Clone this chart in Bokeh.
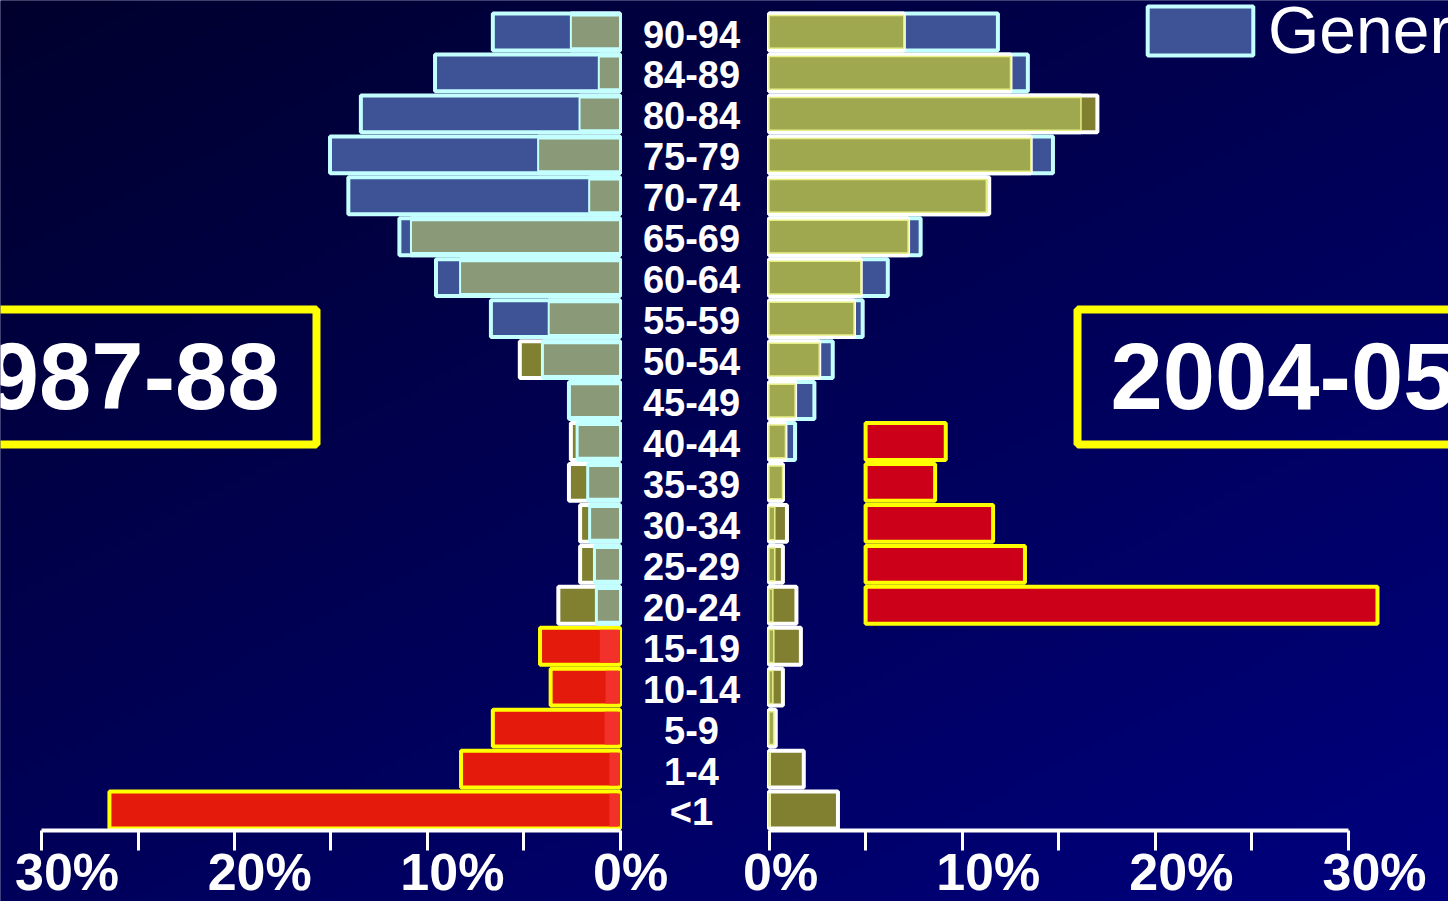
import numpy as np
from bokeh.plotting import figure
from bokeh.models import (Range1d, ColumnDataSource, LinearAxis, FixedTicker,
                          CustomJSTickFormatter, BoxAnnotation, Label, Legend, LegendItem)
from bokeh.core.properties import value
from bokeh.embed import file_html
from bokeh.resources import INLINE

# ---------------- data (percent of each population, bottom row first) ----------------
age_groups = ["<1", "1-4", "5-9", "10-14", "15-19", "20-24", "25-29", "30-34", "35-39",
              "40-44", "45-49", "50-54", "55-59", "60-64", "65-69", "70-74", "75-79",
              "80-84", "84-89", "90-94"]
general_1987 = [0.55, 0.55, 0.8, 0.75, 1.05, 1.2, 1.3, 1.55, 1.65, 2.2,
                2.65, 4.0, 6.7, 9.55, 11.45, 14.1, 15.05, 13.45, 9.6, 6.6]
study_1987 = [26.5, 8.25, 6.6, 3.6, 4.15, 3.2, 2.07, 2.07, 2.65, 2.55,
              2.6, 5.2, 3.7, 8.3, 10.85, 1.6, 4.25, 2.1, 1.1, 2.55]
general_2004 = [0.05, 0.05, 0.25, 0.2, 0.25, 0.2, 0.3, 0.3, 0.7, 1.35,
                2.35, 3.3, 4.85, 6.15, 7.85, 11.25, 14.7, 16.15, 13.4, 11.85]
study_2004 = [3.57, 1.8, 0.35, 0.72, 1.65, 1.42, 0.72, 0.93, 0.72, 0.85,
              1.35, 2.6, 4.4, 4.75, 7.2, 11.4, 13.55, 17.0, 12.5, 6.98]
highlight_count = 5            # youngest age groups highlighted in 1987-88
cohort_shift_rows = 5          # same cohort shown 5 age groups higher in 2004-05
cohort_start_2004 = 5.0        # highlighted cohort bars start at 5 %
axis_ticks = [0, 5, 10, 15, 20, 25, 30]
label_ticks_left = [30, 20, 10, 0]
label_ticks_right = [0, 10, 20, 30]
tick_texts_left = ["30%", "20%", "10%", "0%"]
tick_texts_right = ["0%", "10%", "20%", "30%"]
years = ["1987-88", "2004-05"]
legend_label = "General"

# ---------------- styles ----------------
BLUE = "#3d5396"
CYAN = "#c4ffff"
OLIVE = "#808030"
GREYGREEN = "#8a9a78"
YELLOWGREEN = "#a0a84f"
RED = "#e41a0c"
LIGHTRED = "#f2322a"
DARKRED = "#cc0018"
YELLOW = "#ffff00"
WHITE = "#ffffff"
FONT = "Liberation Sans"

W, H = 1448, 901
L0, LPX = 619.5, 19.267     # left panel: pixel of 0 %, pixels per %
R0, RPX = 768.5, 19.317     # right panel
Y_BASE, ROW = 830.0, 40.95  # pixel of bar baseline, pixels per age group


def lx(px):
    return (L0 - px) / LPX


def rx(px):
    return (px - R0) / RPX


def yv(py):
    return (Y_BASE - py) / ROW - 0.5


p = figure(width=W, height=H, min_border=0, toolbar_location=None, output_backend="svg",
           x_range=Range1d(lx(0), lx(W)), y_range=Range1d(yv(H), yv(0)),
           x_axis_type=None, y_axis_type=None, outline_line_color=None,
           background_fill_color="#000050", border_fill_color="#000050")
p.extra_x_ranges = {"right": Range1d(rx(0), rx(W))}
p.xgrid.visible = False
p.ygrid.visible = False

# background gradient
gr, gc = 120, 190
fy = 1.0 - np.linspace(0, 1, gr)[:, None]
fx = np.linspace(0, 1, gc)[None, :]
t = (fx * 0.45 + fy * 0.55)
img = np.empty((gr, gc), dtype=np.uint32)
view = img.view(dtype=np.uint8).reshape((gr, gc, 4))
view[:, :, 0] = 0
view[:, :, 1] = 0
view[:, :, 2] = (44 + 84 * t).astype(np.uint8)
view[:, :, 3] = 255
x0, x1 = rx(-20), rx(W + 20)
y0, y1 = yv(H + 20), yv(-20)
p.image_rgba(image=[img], x=x0, y=y0, dw=x1 - x0, dh=y1 - y0, x_range_name="right")

n = len(age_groups)
rows = list(range(n))
young = [i < highlight_count for i in rows]

left_src = ColumnDataSource(dict(
    y=rows, g=general_1987, s=study_1987,
    o=[min(a, b) for a, b in zip(general_1987, study_1987)],
    s_fill=[RED if yg else OLIVE for yg in young],
    s_line=[YELLOW if yg else WHITE for yg in young],
    g_alpha=[0.0 if yg else 1.0 for yg in young],
    o_fill=[LIGHTRED if yg else GREYGREEN for yg in young],
    o_line_alpha=[0.0 if yg else 1.0 for yg in young],
))
right_src = ColumnDataSource(dict(
    y=rows, g=general_2004, s=study_2004,
    o=[min(a, b) for a, b in zip(general_2004, study_2004)],
))
cohort_src = ColumnDataSource(dict(
    y=[r + cohort_shift_rows for r in rows[:highlight_count]],
    left=[cohort_start_2004] * highlight_count,
    right=[cohort_start_2004 + v for v in study_1987[:highlight_count]],
))

# left panel (1987-88)
p.hbar(y="y", left=0, right="s", height=0.9, fill_color="s_fill", line_color="s_line",
       line_width=4, source=left_src)
g_left = p.hbar(y="y", left=0, right="g", height=0.9, fill_color=BLUE, fill_alpha="g_alpha",
                line_color=CYAN, line_alpha="g_alpha", line_width=4, source=left_src)
p.hbar(y="y", left=0, right="o", height=0.8, fill_color="o_fill", line_color=CYAN,
       line_alpha="o_line_alpha", line_width=2, source=left_src)

# right panel (2004-05)
p.hbar(y="y", left=0, right="g", height=0.9, fill_color=BLUE, line_color=CYAN, line_width=4,
       source=right_src, x_range_name="right")
p.hbar(y="y", left=0, right="s", height=0.9, fill_color=OLIVE, line_color=WHITE, line_width=4,
       source=right_src, x_range_name="right")
p.hbar(y="y", left=0, right="o", height=0.8, fill_color=YELLOWGREEN, line_color="#e6ef86",
       line_width=1.5, source=right_src, x_range_name="right")
p.hbar(y="y", left="left", right="right", height=0.9, fill_color=DARKRED, line_color=YELLOW,
       line_width=4, source=cohort_src, x_range_name="right")

# axes
for rng in ["default", "right"]:
    ax = LinearAxis(x_range_name=rng, fixed_location=-0.5, bounds=(0, 30),
                    ticker=FixedTicker(ticks=axis_ticks),
                    formatter=CustomJSTickFormatter(code="return ''"),
                    axis_line_color=WHITE, axis_line_width=4,
                    major_tick_line_color=WHITE, major_tick_line_width=3,
                    major_tick_out=20, major_tick_in=0, minor_tick_line_color=None,
                    major_label_text_font_size="1px")
    p.add_layout(ax, "below")

tick_y = yv(871)
p.text(x=label_ticks_left, y=[tick_y] * 4, text=tick_texts_left, x_offset=-27,
       text_align="left", text_baseline="middle", text_color=WHITE,
       text_font=value(FONT), text_font_style="bold", text_font_size="52px")
p.text(x=label_ticks_right, y=[tick_y] * 4, text=tick_texts_right, x_offset=-26,
       text_align="left", text_baseline="middle", text_color=WHITE,
       text_font=value(FONT), text_font_style="bold", text_font_size="52px",
       x_range_name="right")

# age-group labels in the middle
p.text(x=[rx(691)] * n, y=[r - 0.05 for r in rows], text=age_groups, text_align="center",
       text_baseline="middle", text_color=WHITE, text_font=value(FONT),
       text_font_style="bold", text_font_size="38px", x_range_name="right")

# year boxes and labels
p.add_layout(BoxAnnotation(left=lx(-40), right=lx(316), top=yv(309), bottom=yv(444),
                           fill_alpha=0, line_color=YELLOW, line_alpha=1.0, line_width=8))
p.add_layout(BoxAnnotation(left=rx(1077), right=rx(1490), top=yv(309), bottom=yv(444),
                           fill_alpha=0, line_color=YELLOW, line_alpha=1.0, line_width=8,
                           x_range_name="right"))
p.add_layout(Label(x=lx(279), y=yv(375), text=years[0], text_align="right",
                   text_baseline="middle", text_color=WHITE, text_font=FONT,
                   text_font_style="bold", text_font_size="94px"))
p.add_layout(Label(x=rx(1110), y=yv(375), text=years[1], text_align="left",
                   text_baseline="middle", text_color=WHITE, text_font=FONT,
                   text_font_style="bold", text_font_size="94px", x_range_name="right"))

legend = Legend(items=[LegendItem(label=legend_label, renderers=[g_left], index=n - 1)],
                location=(1134, 833), background_fill_alpha=0, border_line_alpha=0,
                glyph_width=132, glyph_height=61, label_text_font_size="66px",
                label_text_color=WHITE, label_text_font=FONT, label_standoff=2,
                padding=0, margin=0, spacing=0)
p.add_layout(legend)

open("out.html", "w").write(file_html(p, INLINE))
